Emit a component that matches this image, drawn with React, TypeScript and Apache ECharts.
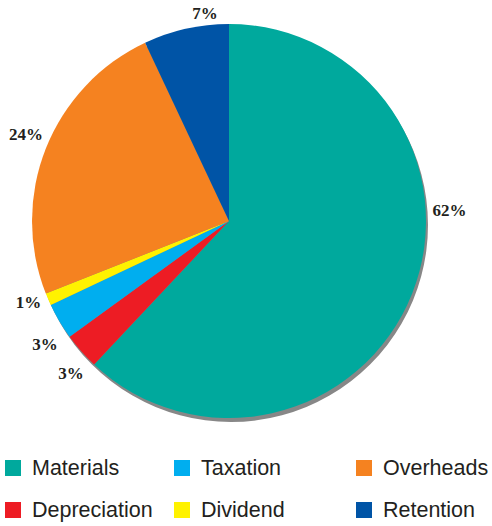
import React, { useEffect, useRef } from "react";
import * as echarts from "echarts";

const categories = ["Materials", "Depreciation", "Taxation", "Dividend", "Overheads", "Retention"];
const values = [62, 3, 3, 1, 24, 7];
const colors = ["#00a99d", "#ed1c24", "#00aeef", "#fff200", "#f58220", "#0054a6"];
const legendColumns = [
  ["Materials", "Depreciation"],
  ["Taxation", "Dividend"],
  ["Overheads", "Retention"],
];

// label placement styling (angle tweak in degrees, distance from centre in px)
const labelAngleAdjust = [-24.2, -2.6, -3.2, 1.2, 1.4, 6];
const labelDistance = [220.7, 219.6, 221.3, 216.6, 220.5, 208.4];

export default function App() {
  const ref = useRef<HTMLDivElement>(null);
  useEffect(() => {
    if (!ref.current) return;
    const chart = echarts.init(ref.current, undefined, { renderer: "svg" });
    const cx = 229;
    const cy = 221;
    const R = 197;
    const total = values.reduce((a, b) => a + b, 0);
    const mids: number[] = [];
    let acc = 0;
    values.forEach((v) => {
      mids.push(((acc + v / 2) / total) * 360);
      acc += v;
    });
    const legendLefts = [5, 174, 356];
    chart.setOption({
      animation: false,
      legend: legendColumns.map((col, i) => ({
        data: col,
        orient: "vertical",
        left: legendLefts[i],
        top: 456,
        padding: 0,
        itemGap: 18,
        itemWidth: 16,
        itemHeight: 16,
        icon: "rect",
        selectedMode: false,
        textStyle: {
          fontFamily: "Liberation Sans",
          fontSize: 21.5,
          lineHeight: 24,
          color: "#231f20",
          padding: [0, 0, 0, 6],
        },
      })),
      series: [
        {
          type: "pie",
          silent: true,
          center: [cx + 2, cy + 4],
          radius: R,
          startAngle: 90,
          z: 1,
          label: { show: false },
          labelLine: { show: false },
          itemStyle: { color: "#878787" },
          data: [{ name: "__shadow", value: 1 }],
        },
        {
          type: "pie",
          center: [cx, cy],
          radius: R,
          startAngle: 90,
          clockwise: true,
          avoidLabelOverlap: false,
          z: 2,
          labelLine: { show: false },
          label: {
            show: true,
            position: "outside",
            formatter: "{c}%",
            fontFamily: "Liberation Serif",
            fontWeight: "bold",
            fontSize: 17,
            color: "#231f20",
            overflow: "none",
            width: 60,
          },
          labelLayout: (params: any) => {
            const i = params.dataIndex;
            const a = ((mids[i] + labelAngleAdjust[i]) * Math.PI) / 180;
            const d = labelDistance[i];
            return {
              x: cx + d * Math.sin(a),
              y: cy - d * Math.cos(a),
              align: "center",
              verticalAlign: "middle",
              hideOverlap: false,
              moveOverlap: false,
            };
          },
          data: categories.map((name, i) => ({
            name,
            value: values[i],
            itemStyle: { color: colors[i] },
          })),
        },
      ],
    });
    return () => chart.dispose();
  }, []);
  return (
    <div
      ref={ref}
      style={{ position: "fixed", left: 0, top: 0, width: 492, height: 526, background: "#fff" }}
    />
  );
}
